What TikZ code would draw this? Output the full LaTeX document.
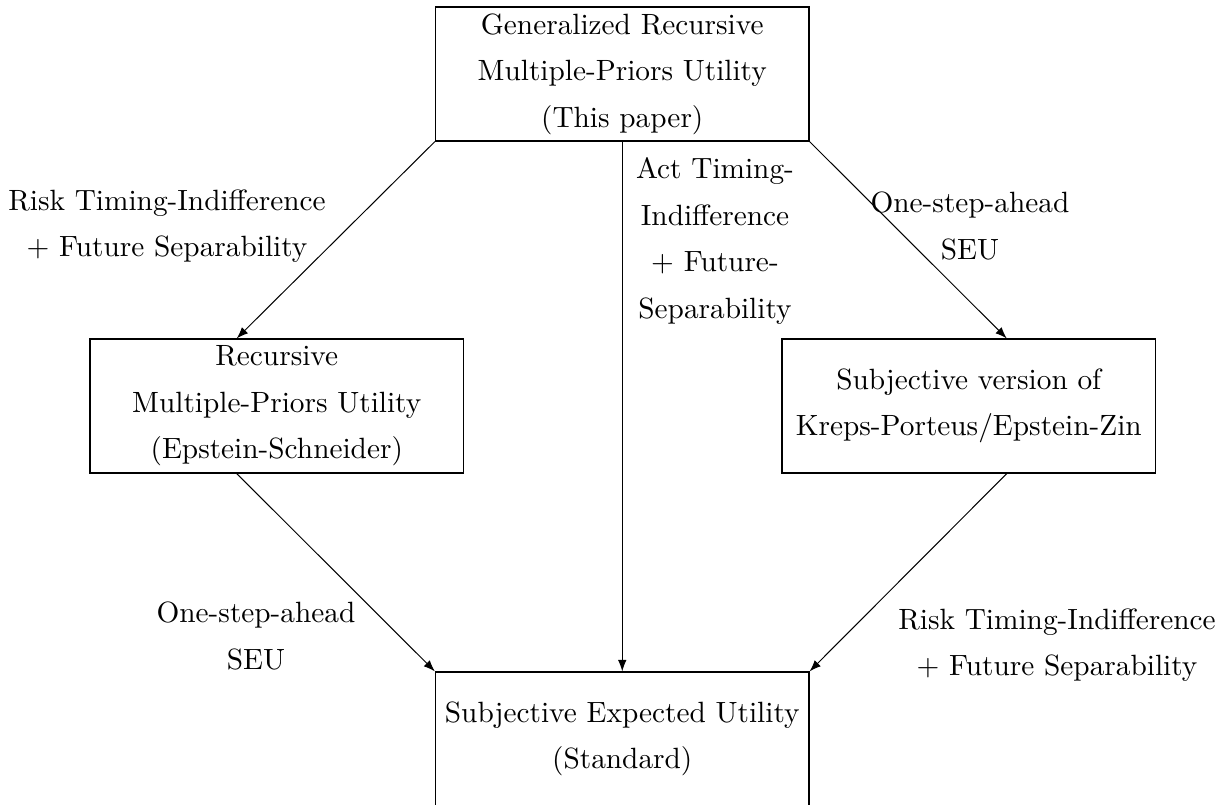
\documentclass[tikz,border=0pt]{standalone}
\usetikzlibrary{arrows.meta}
\begin{document}
\begin{tikzpicture}[x=0.348pt,y=-0.348pt,
  box/.style={draw, line width=0.42pt, minimum width=129.98pt, minimum height=46.63pt, inner sep=0pt, align=center, font=\fontsize{10.2}{16.2}\selectfont, execute at begin node={\rule{0pt}{9pt}}},
  lbl/.style={align=center, inner sep=0pt, font=\fontsize{10.2}{16.2}\selectfont},
  arr/.style={-{Latex[length=4pt,width=3pt]}, line width=0.35pt}]
\useasboundingbox (0,0) rectangle (1225,805);
\node[box] (gen) at (622.25,74) {Generalized Recursive\\Multiple-Priors Utility\\(This paper)};
\node[box] (rmp) at (276.75,406) {Recursive\\Multiple-Priors Utility\\(Epstein-Schneider)};
\node[box] (kp) at (968.75,406) {Subjective version of\\Kreps-Porteus/Epstein-Zin};
\node[box] (seu) at (622.25,739) {Subjective Expected Utility\\(Standard)};
\node[lbl] (l1) at (167,226) {Risk Timing-Indifference\\+ Future Separability};
\node[lbl] (l2) at (715,241) {Act Timing-\\Indifference\\+ Future-\\Separability};
\node[lbl] (l3) at (970,226) {One-step-ahead\\SEU};
\node[lbl] (l4) at (256,636) {One-step-ahead\\SEU};
\node[lbl] (l5) at (1057,645) {Risk Timing-Indifference\\+ Future Separability};
\draw[arr] (gen.south west) -- ([xshift=-13.92pt]rmp.north);
\draw[arr] (gen.south east) -- ([xshift=13.22pt]kp.north);
\draw[arr] (gen.south) -- (seu.north);
\draw[arr] ([xshift=-13.92pt]rmp.south) -- (seu.north west);
\draw[arr] ([xshift=13.22pt]kp.south) -- (seu.north east);
\end{tikzpicture}
\end{document}
